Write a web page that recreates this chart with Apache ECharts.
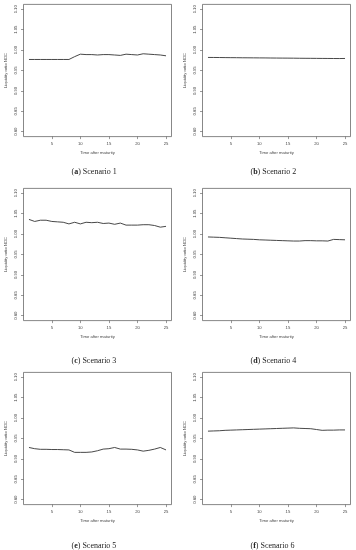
<!DOCTYPE html>
<html>
<head>
<meta charset="utf-8">
<script src="https://cdn.jsdelivr.net/npm/echarts@6/dist/echarts.min.js"></script>
<style>html,body{margin:0;padding:0;background:#fff;}#c{width:356px;height:550px;}</style>
</head>
<body>
<div id="c"></div>
<script>
const timeAfterMaturity = [1,2,3,4,5,6,7,8,9,10,11,12,13,14,15,16,17,18,19,20,21,22,23,24,25];
const scenario1 = [0.977,0.977,0.977,0.977,0.977,0.977,0.977,0.977,0.984,0.990,0.989,0.989,0.988,0.989,0.989,0.988,0.987,0.990,0.989,0.988,0.991,0.990,0.989,0.988,0.986];
const scenario2 = [0.9820,0.9819,0.9818,0.9816,0.9815,0.9814,0.9812,0.9811,0.9810,0.9809,0.9808,0.9806,0.9805,0.9804,0.9803,0.9802,0.9800,0.9799,0.9798,0.9797,0.9796,0.9795,0.9794,0.9793,0.9795];
const scenario3 = [1.036,1.031,1.034,1.034,1.031,1.030,1.029,1.025,1.029,1.025,1.029,1.028,1.029,1.026,1.027,1.024,1.027,1.022,1.022,1.022,1.023,1.023,1.021,1.017,1.019];
const scenario4 = [0.993,0.9925,0.992,0.991,0.990,0.989,0.988,0.9875,0.987,0.986,0.9855,0.985,0.9845,0.984,0.9835,0.983,0.983,0.984,0.984,0.9835,0.9835,0.983,0.987,0.9865,0.986];
const scenario5 = [0.928,0.925,0.9235,0.9235,0.923,0.923,0.9225,0.922,0.916,0.916,0.916,0.917,0.920,0.924,0.925,0.928,0.924,0.924,0.9235,0.922,0.919,0.921,0.924,0.928,0.922];
const scenario6 = [0.968,0.9685,0.969,0.970,0.9705,0.971,0.9715,0.972,0.9725,0.973,0.9735,0.974,0.9745,0.975,0.9755,0.976,0.975,0.9745,0.974,0.972,0.970,0.9705,0.9705,0.971,0.971];
const xTicks = [5,10,15,20,25];
const yTicks = [0.80,0.85,0.90,0.95,1.00,1.05,1.10];
const captions = [['a','Scenario 1'],['b','Scenario 2'],['c','Scenario 3'],['d','Scenario 4'],['e','Scenario 5'],['f','Scenario 6']];
const allSeries = [scenario1,scenario2,scenario3,scenario4,scenario5,scenario6];

const lefts = [23.5, 202.5];
const tops = [4.4, 188.4, 372.4];
const W = 148, H = 132.2;
const grids = [], xAxes = [], yAxes = [], series = [], graphics = [];
const txt = '#444';
for (let i = 0; i < 6; i++) {
  const col = i % 2, row = Math.floor(i / 2);
  grids.push({left: lefts[col], top: tops[row], width: W, height: H, show: true, borderColor: '#555', borderWidth: 0.7, backgroundColor: 'transparent'});
  xAxes.push({type: 'value', gridIndex: i, min: 0.04, max: 25.96,
    axisLine: {show: false}, splitLine: {show: false},
    axisTick: {show: true, customValues: xTicks, length: 2.5, lineStyle: {color: '#555', width: 0.6}},
    axisLabel: {customValues: xTicks, margin: 5, fontSize: 4.2, color: txt, fontFamily: 'Liberation Sans'},
    name: 'Time after maturity', nameLocation: 'middle', nameGap: 14.5,
    nameTextStyle: {fontSize: 4.2, color: txt, fontFamily: 'Liberation Sans'}});
  yAxes.push({type: 'value', gridIndex: i, min: 0.788, max: 1.112,
    axisLine: {show: false}, splitLine: {show: false},
    axisTick: {show: true, customValues: yTicks, length: 2.5, lineStyle: {color: '#555', width: 0.6}},
    axisLabel: {customValues: yTicks, rotate: 90, margin: 6, fontSize: 4.2, color: txt, fontFamily: 'Liberation Sans',
      formatter: v => v.toFixed(2)},
    name: 'Liquidity ratio NOC', nameLocation: 'middle', nameGap: 16,
    nameTextStyle: {fontSize: 4.2, color: txt, fontFamily: 'Liberation Sans'}});
  series.push({type: 'line', xAxisIndex: i, yAxisIndex: i, showSymbol: false, silent: true,
    data: timeAfterMaturity.map((t, k) => [t, allSeries[i][k]]),
    lineStyle: {color: '#333', width: 0.9}});
  const capY = [173.3, 361.7, 547.2][row];
  graphics.push({type: 'text', left: lefts[col] + W / 2 - 26, top: capY - 5,
    style: {text: '{p|(}{b|' + captions[i][0] + '}{p|) ' + captions[i][1] + '}',
      rich: {p: {fontSize: 8, fontFamily: 'Liberation Serif', fill: '#222'},
             b: {fontSize: 8, fontFamily: 'Liberation Serif', fontWeight: 'bold', fill: '#222'}}}});
}
const chart = echarts.init(document.getElementById('c'), null, {renderer: 'canvas'});
chart.setOption({animation: false, backgroundColor: '#fff', grid: grids, xAxis: xAxes, yAxis: yAxes, series: series, graphic: graphics});
</script>
</body>
</html>
